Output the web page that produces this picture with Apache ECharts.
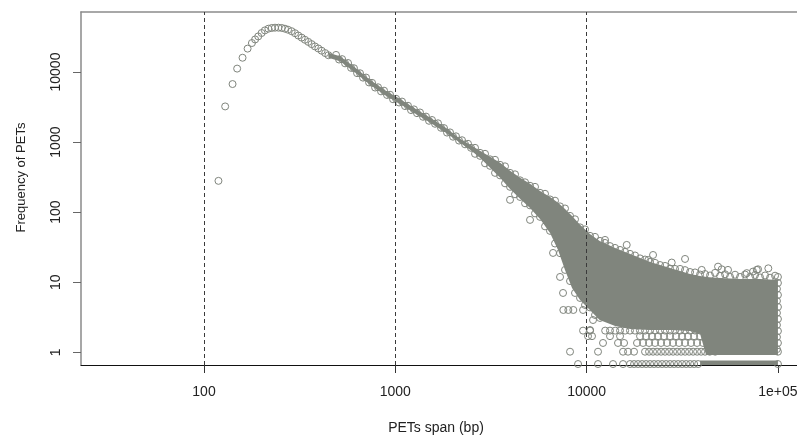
<!DOCTYPE html>
<html><head><meta charset="utf-8">
<script src="https://cdn.jsdelivr.net/npm/echarts@6/dist/echarts.min.js"></script>
<style>html,body{margin:0;padding:0;background:#fff}#c{width:797px;height:437px}</style>
</head><body><div id="c"></div>
<script>
// ---- tick labels / guides ----
const xTicks = [100, 1000, 10000, 100000];
const yTicks = [1, 10, 100, 1000, 10000];
const guideSpans = [100, 1000, 10000];

// ---- distinct circles of the rising peak and the upper curve ----
const peakSpan = [119, 129, 141, 149, 159, 169, 178, 185, 192, 200, 208, 217, 226, 235, 245, 255, 265, 275, 287, 299, 311, 324, 337, 351, 365, 380, 396, 412, 430, 447];
const peakFreq = [280, 3230, 6740, 11200, 16000, 21600, 25950, 29200, 32250, 36050, 39300, 41550, 42550, 42950, 42950, 42550, 41550, 40200, 38280, 35840, 33210, 30990, 28900, 26920, 25050, 23220, 21680, 20150, 18660, 17380];

// ---- narrow band 500 bp - 2.5 kb ----
const bandSpan = [490, 508, 527, 546, 566, 587, 608, 631, 654, 678, 703, 729, 756, 784, 812, 842, 873, 905, 939, 973, 1009, 1046, 1084, 1124, 1165, 1208, 1252, 1298, 1346, 1396, 1447, 1500, 1555, 1613, 1672, 1733, 1797, 1863, 1932, 2003, 2076, 2153, 2232, 2314, 2399, 2487];
const bandFreq = [17560, 15090, 15290, 13310, 13450, 11480, 11330, 9645, 9610, 8318, 8345, 7102, 7009, 6005, 6064, 5300, 5424, 4710, 4740, 4088, 4156, 3679, 3790, 3268, 3300, 2865, 2932, 2588, 2648, 2298, 2313, 2015, 2069, 1826, 1856, 1601, 1585, 1367, 1376, 1194, 1210, 1051, 1064, 930, 946, 829];

// ---- outline of the saturated (overplotted) part of the band and cloud ----
const cloudSpan  = [447, 514, 616, 737, 884, 1058, 1268, 1518, 1819, 2180, 2460, 2770, 3130, 3530, 3980, 4490, 5060, 5710, 6440, 7090, 7710, 8390, 9240, 10400, 11700, 14100, 16900, 21500, 27300, 34700, 39200, 42100, 49800, 63400, 80700, 100000];
const cloudUpper = [18870, 16820, 11600, 7762, 5495, 4115, 3020, 2239, 1627, 1114, 915, 751, 617, 506, 389, 309, 254, 201, 165, 136, 111, 88.5, 65.9, 49.0, 38.9, 30.9, 25.4, 19.5, 16.0, 13.1, 12.3, 11.9, 11.5, 11.1, 11.1, 10.8];
const cloudLower = [16010, 14270, 9840, 6585, 4663, 3491, 2562, 1899, 1380, 977, 776, 597, 429, 309, 215, 155, 115, 80.2, 50.6, 28.9, 15.0, 8.29, 5.59, 4.02, 2.89, 2.38, 2.15, 2.08, 2.08, 2.01, 1.83, 0.915, 0.915, 0.915, 0.915, 0.915];
// lowest row, saturated part
const stripSpan  = [39200, 100000];
const stripUpper = [0.764, 0.764];
const stripLower = [0.66, 0.66];

// ---- circles along the cloud edges ----
const upperEdgeSpan = [2610, 2772, 2944, 3126, 3320, 3527, 3745, 3978, 4225, 4487, 4765, 5060, 5374, 5706, 6061, 6436, 6836, 7262, 7711, 8189, 8697, 9238, 9810, 10418, 11063, 11749, 12478, 13251, 14076, 14950, 15876, 16862, 17907, 19020, 20198, 21456, 22784, 24200, 25700, 27294, 28986, 30790, 32690, 34717, 36870, 39170, 41590, 44170, 46910, 49830, 52920, 56200, 59690, 63400, 67320, 71500, 75930, 80660, 85640, 90960, 96600, 100000];
const upperEdgeFreq = [829, 703, 681, 568, 559, 474, 451, 364, 347, 285, 267, 238, 230, 189, 183, 152, 146, 121, 113, 88.5, 79.2, 60.7, 56.8, 45.9, 44.4, 38.9, 36.4, 32.8, 30.9, 28.9, 27.1, 25.4, 24.1, 21.9, 21.1, 19.5, 18.9, 17.6, 17.1, 15.7, 15.5, 15.5, 14.9, 14.0, 13.8, 12.9, 13.1, 12.5, 13.6, 12.3, 13.0, 11.9, 12.8, 11.9, 12.9, 11.9, 12.7, 11.7, 12.5, 11.6, 12.4, 11.9];
const lowerEdgeSpan = [2610, 2772, 2944, 3126, 3320, 3527, 3745, 3978, 4225, 4487, 4765, 5060, 5374, 5706, 6061, 6436, 6836, 7262, 7711, 8189, 8697, 9238, 9810, 10418, 11063, 11749];
const lowerEdgeFreq = [681, 637, 498, 459, 364, 335, 258, 230, 180, 165, 134, 125, 96.1, 85.7, 62.7, 54.1, 35.7, 26.0, 15.0, 10.4, 7.03, 5.97, 4.74, 4.37, 3.41, 3.09];
const rightEdgeSpan = [100000, 98800, 100000, 98800, 100000, 98800, 100000, 98800, 100000, 98800, 100000, 98800, 100000, 100000];
const rightEdgeFreq = [9.77, 8.04, 6.59, 5.41, 4.44, 3.65, 2.99, 2.45, 2.01, 1.65, 1.36, 1.11, 1.02, 0.68];

// ---- discrete low-count rows ----
const rowLevels = [0.68, 1.02, 1.36, 1.70, 2.04];
const row2Span = [9020, 11470, 13740, 15500, 16860, 17700, 18570, 19490, 20450, 21460, 22520, 23630, 24800, 26020, 27310, 28660, 30070, 31560, 33120, 34760, 36470, 38270];
const row3Span = [8190, 11470, 15500, 16460, 17690, 20200, 21200, 22240, 23340, 24500, 25700, 26980, 28310, 29710, 31170, 32710, 34330, 36030, 37810, 39670, 41590, 44000, 47000];
const row4Span = [12180, 14590, 15690, 18340, 19720, 21200, 22790, 24490, 26320, 28290, 30410, 32690, 35130, 37770, 40600];
const row5Span = [10170, 10670, 13250, 14950, 19020, 20440, 21970, 23620, 25390, 27290, 29330, 31530, 33890, 36430, 39160];
const row6Span = [9580, 10420, 12500, 13250, 14100, 14950, 15900, 16850, 17900, 19000, 20200, 21450, 22800, 24200, 25700, 27300, 29000, 30800, 32700, 34700, 36900, 39200];

// ---- isolated circles ----
const outlierSpan = [8520, 12480, 16200, 21020, 22240, 27850, 32690, 39960, 48630, 50840, 54830, 68700, 74110, 77500, 78720, 89070, 10420, 10800, 9580, 7555, 8023, 8520, 6675, 7262, 7529, 3978, 5060, 5915];
const outlierFreq = [65.9, 40.2, 34.1, 20.8, 24.5, 19.1, 21.5, 15.0, 16.7, 15.3, 15.0, 13.5, 14.2, 15.0, 15.3, 15.8, 2.08, 2.89, 4.02, 4.02, 4.02, 4.02, 26.2, 11.9, 7.03, 150, 77.6, 123];

const GRAY = '#80857d';
const FONT = 'Liberation Sans, Arial, Helvetica, sans-serif';
const X_MIN = 22.75, X_MAX = 125800, Y_MIN = 0.659, Y_MAX = 71940;

const pairs = (xs, ys) => xs.map((x, i) => [x, ys[i]]);
const row = (xs, level) => xs.map(x => [x, level]);
const rowSpans = [row2Span, row3Span, row4Span, row5Span, row6Span];

const circles = [].concat(
  pairs(peakSpan, peakFreq),
  pairs(bandSpan, bandFreq),
  pairs(upperEdgeSpan, upperEdgeFreq),
  pairs(lowerEdgeSpan, lowerEdgeFreq),
  pairs(rightEdgeSpan, rightEdgeFreq),
  pairs(outlierSpan, outlierFreq),
  ...rowSpans.map((s, i) => row(s, rowLevels[i]))
);

const envelopes = [
  { span: cloudSpan, upper: cloudUpper, lower: cloudLower },
  { span: stripSpan, upper: stripUpper, lower: stripLower }
];

const chart = echarts.init(document.getElementById('c'), null, { renderer: 'canvas' });
chart.setOption({
  animation: false,
  backgroundColor: '#fff',
  grid: { left: 81, top: 12, bottom: 72, right: 0, show: false, containLabel: false, outerBoundsMode: 'none' },
  xAxis: [{
    type: 'log', logBase: 10, min: X_MIN, max: X_MAX,
    name: 'PETs span (bp)', nameLocation: 'middle', nameGap: 56,
    nameTextStyle: { fontFamily: FONT, fontSize: 14, color: '#222', padding: [0, 6, 0, 0] },
    axisLine: { show: true, onZero: false, lineStyle: { color: '#111', width: 1 } },
    axisTick: { show: true, customValues: xTicks, length: 8, lineStyle: { color: '#333' } },
    axisLabel: { customValues: xTicks, margin: 20, fontFamily: FONT, fontSize: 14, color: '#222',
      formatter: v => (v >= 99999 ? '1e+05' : String(Math.round(v))) },
    splitLine: { show: false }, minorTick: { show: false }
  }, {
    type: 'log', logBase: 10, min: X_MIN, max: X_MAX, position: 'top',
    axisLine: { show: true, onZero: false, lineStyle: { color: '#8c8c8c', width: 1.5 } },
    axisTick: { show: false }, axisLabel: { show: false }, splitLine: { show: false }
  }],
  yAxis: {
    type: 'log', logBase: 10, min: Y_MIN, max: Y_MAX,
    name: 'Frequency of PETs', nameLocation: 'middle', nameGap: 53, nameRotate: 90,
    nameTextStyle: { fontFamily: FONT, fontSize: 13, color: '#222', padding: [0, 0, 0, 22] },
    axisLine: { show: true, onZero: false, lineStyle: { color: '#8a8a8a', width: 1.5 } },
    axisTick: { show: true, customValues: yTicks, length: 8, lineStyle: { color: '#666' } },
    axisLabel: { customValues: yTicks, rotate: 90, margin: 18, fontFamily: FONT, fontSize: 14, color: '#222',
      formatter: v => String(Math.round(v)) },
    splitLine: { show: false }, minorTick: { show: false }
  },
  series: [
    {
      type: 'custom', silent: true, z: 1, xAxisIndex: 0,
      data: envelopes.map(e => [e.span[0], e.upper[0]]),
      renderItem: function (params, api) {
        const e = envelopes[params.dataIndex];
        const top = e.span.map((s, i) => api.coord([s, e.upper[i]]));
        const bot = e.span.map((s, i) => api.coord([s, e.lower[i]])).reverse();
        return { type: 'polygon', shape: { points: top.concat(bot) }, style: { fill: GRAY } };
      }
    },
    {
      type: 'scatter', silent: true, z: 2, xAxisIndex: 0,
      symbol: 'circle', symbolSize: 7,
      itemStyle: { color: 'rgba(0,0,0,0)', borderColor: GRAY, borderWidth: 1, opacity: 1 },
      data: circles,
      markLine: {
        silent: true, symbol: 'none', z: 5,
        label: { show: false },
        lineStyle: { type: [4, 3], color: '#3a3a3a', width: 1 },
        data: guideSpans.map(v => ({ xAxis: v }))
      }
    }
  ]
});
</script></body></html>
